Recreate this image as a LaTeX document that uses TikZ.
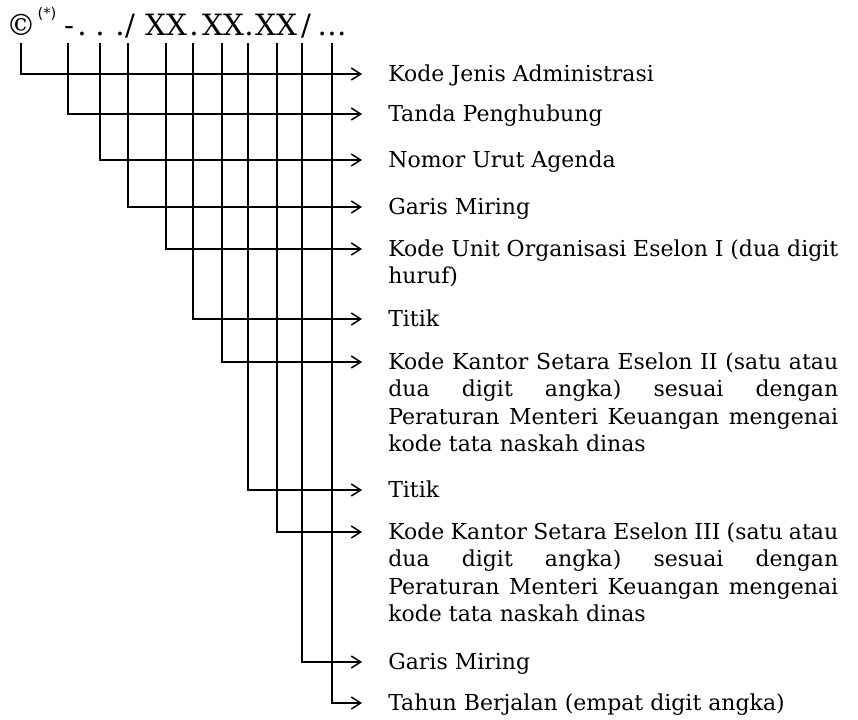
\documentclass[tikz,border=0pt]{standalone}
\usepackage{fontspec}
\setmainfont{DejaVu Serif}
\setsansfont{DejaVu Sans}
\usepackage{tikz}
\usetikzlibrary{arrows.meta}

\tikzset{
  kode/.style={line width=1.1pt, -{Straight Barb[length=7pt,width=9pt,line width=1.1pt]}},
  ket/.style={anchor=north west, inner sep=0pt, text width=337.5pt, align=justify,
    font=\fontsize{16.5}{20.6}\selectfont},
  huruf/.style={anchor=base, inner sep=0pt, font=\fontsize{22}{24}\selectfont},
}
\newcommand{\tanpapotong}{\hyphenpenalty=10000\relax\tolerance=9999\relax\strut}

\begin{document}
\begin{tikzpicture}[x=0.75pt,y=0.75pt,yscale=-1,xscale=1]
\useasboundingbox (0,0) rectangle (858,719);

% Text Node (nomor surat)
\foreach \i/\x/\t in {1/21/\textcopyright, 2/69/-, 3/82/., 4/100/., 5/120/., 6/130/{/}, 7/166/XX, 8/194/., 9/223/XX, 10/249/., 11/276/XX, 12/306/{/}, 13/332/\dots}
  \node[huruf] (c\i) at (\x,35) {\t};
\node[anchor=west, inner sep=0pt, font=\sffamily\fontsize{11}{12}\selectfont] (bintang) at ([xshift=1]c1.east |- 0,14) {(*)};

%Straight Lines
\foreach \i/\x/\y in {1/21/74, 2/68/114, 3/100/160, 4/128/207, 5/166/249, 6/193/319,
    7/222/362, 8/248/490, 9/277/532, 10/302/662, 11/332/703} {
  \coordinate (a\i) at (\x,43);
  \coordinate (e\i) at (362,\y);
  \draw[kode] (a\i) |- (e\i);
}

% Text Node
\node[ket] (k1) at (388,62) {\tanpapotong Kode Jenis Administrasi};
% Text Node
\node[ket] (k2) at (388,102) {\tanpapotong Tanda Penghubung};
% Text Node
\node[ket] (k3) at (388,148) {\tanpapotong Nomor Urut Agenda};
% Text Node
\node[ket] (k4) at (388,195) {\tanpapotong Garis Miring};
% Text Node
\node[ket] (k5) at (388,237) {\tanpapotong Kode Unit Organisasi Eselon I (dua digit \linebreak huruf)};
% Text Node
\node[ket] (k6) at (388,307) {\tanpapotong Titik};
% Text Node
\node[ket] (k7) at (388,350) {\tanpapotong Kode Kantor Setara Eselon II (satu atau \linebreak dua digit angka) sesuai dengan \linebreak Peraturan Menteri Keuangan mengenai \linebreak kode tata naskah dinas};
% Text Node
\node[ket] (k8) at (388,478) {\tanpapotong Titik};
% Text Node
\node[ket] (k9) at (388,520) {\tanpapotong Kode Kantor Setara Eselon III (satu atau \linebreak dua digit angka) sesuai dengan \linebreak Peraturan Menteri Keuangan mengenai \linebreak kode tata naskah dinas};
% Text Node
\node[ket] (k10) at (388,650) {\tanpapotong Garis Miring};
% Text Node
\node[ket] (k11) at (388,691) {\tanpapotong Tahun Berjalan (empat digit angka)};

\end{tikzpicture}
\end{document}
